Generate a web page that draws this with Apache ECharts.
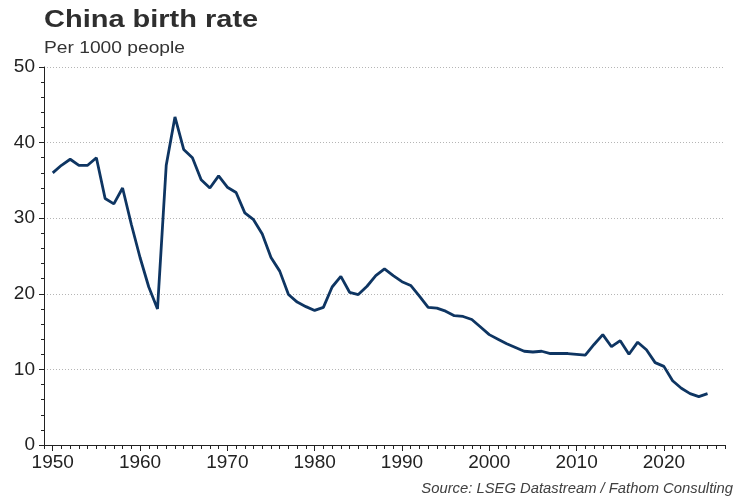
<!DOCTYPE html>
<html>
<head>
<meta charset="utf-8">
<script src="https://cdn.jsdelivr.net/npm/echarts@6/dist/echarts.min.js"></script>
<style>html,body{margin:0;padding:0;background:#fff}#c{width:750px;height:500px}</style>
</head>
<body>
<div id="c"></div>
<script>
const years = [];
for (let y = 1950; y <= 2025; y++) years.push(y);
const birthRate = [
  36.0, 37.0, 37.8, 37.0, 37.0, 38.0, 32.6, 31.9, 34.0, 29.2,
  24.8, 20.9, 18.0, 37.0, 43.4, 39.1, 38.0, 35.1, 34.0, 35.6,
  34.1, 33.4, 30.7, 29.8, 27.9, 24.8, 23.0, 19.9, 18.9, 18.3,
  17.8, 18.2, 20.9, 22.3, 20.2, 19.9, 21.0, 22.4, 23.3, 22.4,
  21.6, 21.1, 19.7, 18.2, 18.1, 17.7, 17.1, 17.0, 16.6, 15.6,
  14.6, 14.0, 13.4, 12.9, 12.4, 12.3, 12.4, 12.1, 12.1, 12.1,
  12.0, 11.9, 13.3, 14.6, 13.0, 13.8, 12.0, 13.6, 12.6, 10.9,
  10.4, 8.5, 7.5, 6.8, 6.4, 6.8
];
const xTickLabels = [1950, 1960, 1970, 1980, 1990, 2000, 2010, 2020];
const minorYears = [];
for (let y = 1949; y <= 2027; y++) minorYears.push(y);
const titleText = 'China birth rate';
const subtitleText = 'Per 1000 people';
const sourceText = 'Source: LSEG Datastream / Fathom Consulting';

const chart = echarts.init(document.getElementById('c'), null, {renderer: 'canvas'});
const font = '"Liberation Sans", Arial, sans-serif';
chart.setOption({
  animation: false,
  backgroundColor: '#fff',
  grid: {left: 44, right: 25, top: 67, bottom: 55, containLabel: false},
  graphic: [
    {type: 'text', x: 44, y: 9, scaleX: 1.26, style: {text: titleText, font: 'bold 23px ' + font, fill: '#2e2e2e'}},
    {type: 'text', x: 44, y: 40, scaleX: 1.13, style: {text: subtitleText, font: '17px ' + font, fill: '#333'}},
    {type: 'text', right: 17, top: 481, style: {text: sourceText, font: 'italic 14.8px ' + font, fill: '#404040'}}
  ],
  xAxis: [
    {
      type: 'value', min: 1949, max: 2027,
      axisLine: {show: true, lineStyle: {color: '#222', width: 1}},
      axisTick: {show: true, customValues: minorYears, length: 4, lineStyle: {color: '#222'}},
      axisLabel: {customValues: xTickLabels, fontSize: 19, color: '#222', fontFamily: font, margin: 8,
                  formatter: v => String(v)},
      splitLine: {show: false}
    },
    {
      type: 'value', min: 1949, max: 2027, position: 'bottom', offset: 0,
      axisLine: {show: false},
      axisTick: {show: true, customValues: xTickLabels, length: 6, lineStyle: {color: '#222'}},
      axisLabel: {show: false},
      splitLine: {show: false}
    }
  ],
  yAxis: {
    type: 'value', min: 0, max: 50, interval: 10,
    axisLine: {show: true, lineStyle: {color: '#222', width: 1}},
    axisTick: {show: true, length: 5, lineStyle: {color: '#222'}},
    minorTick: {show: true, splitNumber: 5, length: 3, lineStyle: {color: '#222'}},
    axisLabel: {fontSize: 19, color: '#222', fontFamily: font, margin: 9},
    splitLine: {show: true, lineStyle: {color: '#b5b5b5', type: [1, 2], width: 1}}
  },
  series: [{
    type: 'line',
    xAxisIndex: 0,
    data: years.map((y, i) => [y, birthRate[i]]),
    showSymbol: false,
    lineStyle: {color: '#0e3562', width: 2.8},
    itemStyle: {color: '#0e3562'}
  }]
});
</script>
</body>
</html>
